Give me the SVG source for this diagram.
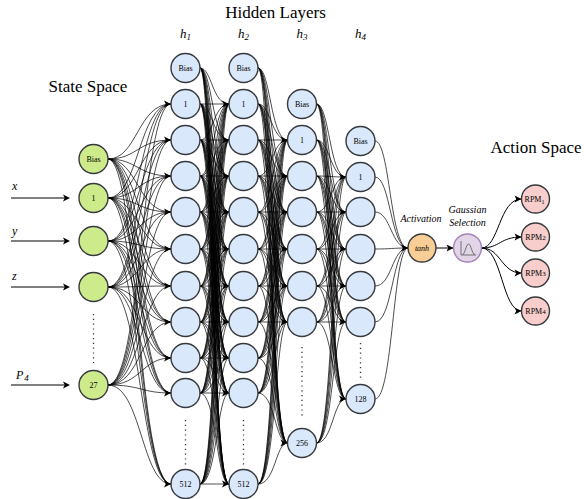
<svg xmlns="http://www.w3.org/2000/svg" xmlns:xlink="http://www.w3.org/1999/xlink" width="584" height="499" viewBox="0 0 584 499">
<style>
text{font-family:"Liberation Serif","Times New Roman",serif;fill:#000}
.t{font-size:8px;text-anchor:middle}
.ti{font-size:17px;text-anchor:middle}
.it{font-style:italic}
.e{fill:none;stroke:#000;stroke-width:0.7}
.in{fill:none;stroke:#000;stroke-width:1}
.dot{fill:none;stroke:#333;stroke-width:1.3;stroke-dasharray:1.2 3.6}
.n circle{stroke:#36393d;stroke-width:1.4}
.b circle{fill:#dae8fc}
.g circle{fill:#cdeb8b}
.o circle{fill:#f8cd96}
.p circle{fill:#e1d5e7;stroke:#a680b8}
.r circle{fill:#f8cecc}
</style>
<defs>
<path id="a" d="M0 0L-7 -3.5L-5.3 0L-7 3.5Z" fill="#000"/>
</defs>

<g id="titles">
<text class="ti" x="275.5" y="18">Hidden Layers</text>
<text class="ti" x="88" y="91.5">State Space</text>
<text class="ti" x="536" y="153">Action Space</text>
<text class="it" x="180" y="38" font-size="13">h<tspan font-size="9" dy="2">1</tspan></text>
<text class="it" x="238" y="38" font-size="13">h<tspan font-size="9" dy="2">2</tspan></text>
<text class="it" x="296.5" y="38" font-size="13">h<tspan font-size="9" dy="2">3</tspan></text>
<text class="it" x="355" y="38" font-size="13">h<tspan font-size="9" dy="2">4</tspan></text>
<text class="it" x="12" y="190" font-size="12">x</text>
<text class="it" x="12" y="235" font-size="12">y</text>
<text class="it" x="12" y="280" font-size="12">z</text>
<text class="it" x="16" y="379" font-size="12">P<tspan font-size="9" dy="2" dx="1">4</tspan></text>
<text class="it" x="421" y="222" font-size="10" text-anchor="middle">Activation</text>
<text class="it" x="467.5" y="213" font-size="10" text-anchor="middle">Gaussian</text>
<text class="it" x="467.5" y="226" font-size="10" text-anchor="middle">Selection</text>
</g>

<g id="connectors">
<path class="in" d="M11 198H65M11 241H65M11 287H65M11 385H65"/>
<path class="e" d="M108 159C137.5 159 137.5 104 171 104M108 159C137.5 159 137.5 140 171 140M108 159C137.5 159 137.5 176 171 176M108 159C137.5 159 137.5 212 171 212M108 159C137.5 159 137.5 249 171 249M108 159C137.5 159 137.5 286 171 286M108 159C137.5 159 137.5 322 171 322M108 159C137.5 159 137.5 358 171 358M108 159C137.5 159 137.5 393 171 393M108 159C137.5 159 137.5 484 171 484"/>
<path class="e" d="M108 198C138.5 198 138.5 104 171 104M108 198C138.5 198 138.5 140 171 140M108 198C138.5 198 138.5 176 171 176M108 198C138.5 198 138.5 212 171 212M108 198C138.5 198 138.5 249 171 249M108 198C138.5 198 138.5 286 171 286M108 198C138.5 198 138.5 322 171 322M108 198C138.5 198 138.5 358 171 358M108 198C138.5 198 138.5 393 171 393M108 198C138.5 198 138.5 484 171 484"/>
<path class="e" d="M108 241C139.5 241 139.5 104 171 104M108 241C139.5 241 139.5 140 171 140M108 241C139.5 241 139.5 176 171 176M108 241C139.5 241 139.5 212 171 212M108 241C139.5 241 139.5 249 171 249M108 241C139.5 241 139.5 286 171 286M108 241C139.5 241 139.5 322 171 322M108 241C139.5 241 139.5 358 171 358M108 241C139.5 241 139.5 393 171 393M108 241C139.5 241 139.5 484 171 484"/>
<path class="e" d="M108 287C140.5 287 140.5 104 171 104M108 287C140.5 287 140.5 140 171 140M108 287C140.5 287 140.5 176 171 176M108 287C140.5 287 140.5 212 171 212M108 287C140.5 287 140.5 249 171 249M108 287C140.5 287 140.5 286 171 286M108 287C140.5 287 140.5 322 171 322M108 287C140.5 287 140.5 358 171 358M108 287C140.5 287 140.5 393 171 393M108 287C140.5 287 140.5 484 171 484"/>
<path class="e" d="M108 385C141.5 385 141.5 104 171 104M108 385C141.5 385 141.5 140 171 140M108 385C141.5 385 141.5 176 171 176M108 385C141.5 385 141.5 212 171 212M108 385C141.5 385 141.5 249 171 249M108 385C141.5 385 141.5 286 171 286M108 385C141.5 385 141.5 322 171 322M108 385C141.5 385 141.5 358 171 358M108 385C141.5 385 141.5 393 171 393M108 385C141.5 385 141.5 484 171 484"/>

<path class="e" d="M200 68C212 68 212 104 229 104M200 68C212 68 212 140 229 140M200 68C212 68 212 176 229 176M200 68C212 68 212 212 229 212M200 68C212 68 212 249 229 249M200 68C212 68 212 286 229 286M200 68C212 68 212 322 229 322M200 68C212 68 212 358 229 358M200 68C212 68 212 393 229 393M200 68C212 68 212 484 229 484"/>
<path class="e" d="M200 104C212.5 104 212.5 104 229 104M200 104C212.5 104 212.5 140 229 140M200 104C212.5 104 212.5 176 229 176M200 104C212.5 104 212.5 212 229 212M200 104C212.5 104 212.5 249 229 249M200 104C212.5 104 212.5 286 229 286M200 104C212.5 104 212.5 322 229 322M200 104C212.5 104 212.5 358 229 358M200 104C212.5 104 212.5 393 229 393M200 104C212.5 104 212.5 484 229 484"/>
<path class="e" d="M200 140C213 140 213 104 229 104M200 140C213 140 213 140 229 140M200 140C213 140 213 176 229 176M200 140C213 140 213 212 229 212M200 140C213 140 213 249 229 249M200 140C213 140 213 286 229 286M200 140C213 140 213 322 229 322M200 140C213 140 213 358 229 358M200 140C213 140 213 393 229 393M200 140C213 140 213 484 229 484"/>
<path class="e" d="M200 176C213.5 176 213.5 104 229 104M200 176C213.5 176 213.5 140 229 140M200 176C213.5 176 213.5 176 229 176M200 176C213.5 176 213.5 212 229 212M200 176C213.5 176 213.5 249 229 249M200 176C213.5 176 213.5 286 229 286M200 176C213.5 176 213.5 322 229 322M200 176C213.5 176 213.5 358 229 358M200 176C213.5 176 213.5 393 229 393M200 176C213.5 176 213.5 484 229 484"/>
<path class="e" d="M200 212C214 212 214 104 229 104M200 212C214 212 214 140 229 140M200 212C214 212 214 176 229 176M200 212C214 212 214 212 229 212M200 212C214 212 214 249 229 249M200 212C214 212 214 286 229 286M200 212C214 212 214 322 229 322M200 212C214 212 214 358 229 358M200 212C214 212 214 393 229 393M200 212C214 212 214 484 229 484"/>
<path class="e" d="M200 249C214.5 249 214.5 104 229 104M200 249C214.5 249 214.5 140 229 140M200 249C214.5 249 214.5 176 229 176M200 249C214.5 249 214.5 212 229 212M200 249C214.5 249 214.5 249 229 249M200 249C214.5 249 214.5 286 229 286M200 249C214.5 249 214.5 322 229 322M200 249C214.5 249 214.5 358 229 358M200 249C214.5 249 214.5 393 229 393M200 249C214.5 249 214.5 484 229 484"/>
<path class="e" d="M200 286C215 286 215 104 229 104M200 286C215 286 215 140 229 140M200 286C215 286 215 176 229 176M200 286C215 286 215 212 229 212M200 286C215 286 215 249 229 249M200 286C215 286 215 286 229 286M200 286C215 286 215 322 229 322M200 286C215 286 215 358 229 358M200 286C215 286 215 393 229 393M200 286C215 286 215 484 229 484"/>
<path class="e" d="M200 322C215.5 322 215.5 104 229 104M200 322C215.5 322 215.5 140 229 140M200 322C215.5 322 215.5 176 229 176M200 322C215.5 322 215.5 212 229 212M200 322C215.5 322 215.5 249 229 249M200 322C215.5 322 215.5 286 229 286M200 322C215.5 322 215.5 322 229 322M200 322C215.5 322 215.5 358 229 358M200 322C215.5 322 215.5 393 229 393M200 322C215.5 322 215.5 484 229 484"/>
<path class="e" d="M200 358C216 358 216 104 229 104M200 358C216 358 216 140 229 140M200 358C216 358 216 176 229 176M200 358C216 358 216 212 229 212M200 358C216 358 216 249 229 249M200 358C216 358 216 286 229 286M200 358C216 358 216 322 229 322M200 358C216 358 216 358 229 358M200 358C216 358 216 393 229 393M200 358C216 358 216 484 229 484"/>
<path class="e" d="M200 393C216.5 393 216.5 104 229 104M200 393C216.5 393 216.5 140 229 140M200 393C216.5 393 216.5 176 229 176M200 393C216.5 393 216.5 212 229 212M200 393C216.5 393 216.5 249 229 249M200 393C216.5 393 216.5 286 229 286M200 393C216.5 393 216.5 322 229 322M200 393C216.5 393 216.5 358 229 358M200 393C216.5 393 216.5 393 229 393M200 393C216.5 393 216.5 484 229 484"/>
<path class="e" d="M200 484C217 484 217 104 229 104M200 484C217 484 217 140 229 140M200 484C217 484 217 176 229 176M200 484C217 484 217 212 229 212M200 484C217 484 217 249 229 249M200 484C217 484 217 286 229 286M200 484C217 484 217 322 229 322M200 484C217 484 217 358 229 358M200 484C217 484 217 393 229 393M200 484C217 484 217 484 229 484"/>

<path class="e" d="M258 68C270.5 68 270.5 140 287.5 140M258 68C270.5 68 270.5 176 287.5 176M258 68C270.5 68 270.5 212 287.5 212M258 68C270.5 68 270.5 249 287.5 249M258 68C270.5 68 270.5 286 287.5 286M258 68C270.5 68 270.5 322 287.5 322M258 68C270.5 68 270.5 443 287.5 443"/>
<path class="e" d="M258 104C271 104 271 140 287.5 140M258 104C271 104 271 176 287.5 176M258 104C271 104 271 212 287.5 212M258 104C271 104 271 249 287.5 249M258 104C271 104 271 286 287.5 286M258 104C271 104 271 322 287.5 322M258 104C271 104 271 443 287.5 443"/>
<path class="e" d="M258 140C271.5 140 271.5 140 287.5 140M258 140C271.5 140 271.5 176 287.5 176M258 140C271.5 140 271.5 212 287.5 212M258 140C271.5 140 271.5 249 287.5 249M258 140C271.5 140 271.5 286 287.5 286M258 140C271.5 140 271.5 322 287.5 322M258 140C271.5 140 271.5 443 287.5 443"/>
<path class="e" d="M258 176C272 176 272 140 287.5 140M258 176C272 176 272 176 287.5 176M258 176C272 176 272 212 287.5 212M258 176C272 176 272 249 287.5 249M258 176C272 176 272 286 287.5 286M258 176C272 176 272 322 287.5 322M258 176C272 176 272 443 287.5 443"/>
<path class="e" d="M258 212C272.5 212 272.5 140 287.5 140M258 212C272.5 212 272.5 176 287.5 176M258 212C272.5 212 272.5 212 287.5 212M258 212C272.5 212 272.5 249 287.5 249M258 212C272.5 212 272.5 286 287.5 286M258 212C272.5 212 272.5 322 287.5 322M258 212C272.5 212 272.5 443 287.5 443"/>
<path class="e" d="M258 249C273 249 273 140 287.5 140M258 249C273 249 273 176 287.5 176M258 249C273 249 273 212 287.5 212M258 249C273 249 273 249 287.5 249M258 249C273 249 273 286 287.5 286M258 249C273 249 273 322 287.5 322M258 249C273 249 273 443 287.5 443"/>
<path class="e" d="M258 286C273.5 286 273.5 140 287.5 140M258 286C273.5 286 273.5 176 287.5 176M258 286C273.5 286 273.5 212 287.5 212M258 286C273.5 286 273.5 249 287.5 249M258 286C273.5 286 273.5 286 287.5 286M258 286C273.5 286 273.5 322 287.5 322M258 286C273.5 286 273.5 443 287.5 443"/>
<path class="e" d="M258 322C274 322 274 140 287.5 140M258 322C274 322 274 176 287.5 176M258 322C274 322 274 212 287.5 212M258 322C274 322 274 249 287.5 249M258 322C274 322 274 286 287.5 286M258 322C274 322 274 322 287.5 322M258 322C274 322 274 443 287.5 443"/>
<path class="e" d="M258 358C274.5 358 274.5 140 287.5 140M258 358C274.5 358 274.5 176 287.5 176M258 358C274.5 358 274.5 212 287.5 212M258 358C274.5 358 274.5 249 287.5 249M258 358C274.5 358 274.5 286 287.5 286M258 358C274.5 358 274.5 322 287.5 322M258 358C274.5 358 274.5 443 287.5 443"/>
<path class="e" d="M258 393C275 393 275 140 287.5 140M258 393C275 393 275 176 287.5 176M258 393C275 393 275 212 287.5 212M258 393C275 393 275 249 287.5 249M258 393C275 393 275 286 287.5 286M258 393C275 393 275 322 287.5 322M258 393C275 393 275 443 287.5 443"/>
<path class="e" d="M258 484C275.5 484 275.5 140 287.5 140M258 484C275.5 484 275.5 176 287.5 176M258 484C275.5 484 275.5 212 287.5 212M258 484C275.5 484 275.5 249 287.5 249M258 484C275.5 484 275.5 286 287.5 286M258 484C275.5 484 275.5 322 287.5 322M258 484C275.5 484 275.5 443 287.5 443"/>

<path class="e" d="M316.5 104C329.5 104 329.5 177 346 177M316.5 104C329.5 104 329.5 212 346 212M316.5 104C329.5 104 329.5 249 346 249M316.5 104C329.5 104 329.5 286 346 286M316.5 104C329.5 104 329.5 322 346 322M316.5 104C329.5 104 329.5 399 346 399"/>
<path class="e" d="M316.5 140C330 140 330 177 346 177M316.5 140C330 140 330 212 346 212M316.5 140C330 140 330 249 346 249M316.5 140C330 140 330 286 346 286M316.5 140C330 140 330 322 346 322M316.5 140C330 140 330 399 346 399"/>
<path class="e" d="M316.5 176C330.5 176 330.5 177 346 177M316.5 176C330.5 176 330.5 212 346 212M316.5 176C330.5 176 330.5 249 346 249M316.5 176C330.5 176 330.5 286 346 286M316.5 176C330.5 176 330.5 322 346 322M316.5 176C330.5 176 330.5 399 346 399"/>
<path class="e" d="M316.5 212C331 212 331 177 346 177M316.5 212C331 212 331 212 346 212M316.5 212C331 212 331 249 346 249M316.5 212C331 212 331 286 346 286M316.5 212C331 212 331 322 346 322M316.5 212C331 212 331 399 346 399"/>
<path class="e" d="M316.5 249C331.5 249 331.5 177 346 177M316.5 249C331.5 249 331.5 212 346 212M316.5 249C331.5 249 331.5 249 346 249M316.5 249C331.5 249 331.5 286 346 286M316.5 249C331.5 249 331.5 322 346 322M316.5 249C331.5 249 331.5 399 346 399"/>
<path class="e" d="M316.5 286C332 286 332 177 346 177M316.5 286C332 286 332 212 346 212M316.5 286C332 286 332 249 346 249M316.5 286C332 286 332 286 346 286M316.5 286C332 286 332 322 346 322M316.5 286C332 286 332 399 346 399"/>
<path class="e" d="M316.5 322C332.5 322 332.5 177 346 177M316.5 322C332.5 322 332.5 212 346 212M316.5 322C332.5 322 332.5 249 346 249M316.5 322C332.5 322 332.5 286 346 286M316.5 322C332.5 322 332.5 322 346 322M316.5 322C332.5 322 332.5 399 346 399"/>
<path class="e" d="M316.5 443C333 443 333 177 346 177M316.5 443C333 443 333 212 346 212M316.5 443C333 443 333 249 346 249M316.5 443C333 443 333 286 346 286M316.5 443C333 443 333 322 346 322M316.5 443C333 443 333 399 346 399"/>

<path class="e" d="M375 141C390 141 390 248 408 248M375 177C390.5 177 390.5 248 408 248M375 212C391 212 391 248 408 248M375 249C391.5 249 391.5 248 408 248M375 286C392 286 392 248 408 248M375 322C392.5 322 392.5 248 408 248M375 399C393 399 393 248 408 248"/>
<path class="in" d="M436 248H453.5"/>
<path class="in" d="M481.5 248C499 248 499 199 521.5 199M481.5 248C500 248 500 237 521.5 237M481.5 248C501 248 501 273 521.5 273M481.5 248C502 248 502 311 521.5 311"/>

<g id="arrowheads">
<use xlink:href="#a" x="70" y="198"/><use xlink:href="#a" x="70" y="241"/><use xlink:href="#a" x="70" y="287"/><use xlink:href="#a" x="70" y="385"/>
<use xlink:href="#a" x="171" y="104"/><use xlink:href="#a" x="171" y="140"/><use xlink:href="#a" x="171" y="176"/><use xlink:href="#a" x="171" y="212"/><use xlink:href="#a" x="171" y="249"/><use xlink:href="#a" x="171" y="286"/><use xlink:href="#a" x="171" y="322"/><use xlink:href="#a" x="171" y="358"/><use xlink:href="#a" x="171" y="393"/><use xlink:href="#a" x="171" y="484"/>
<use xlink:href="#a" x="229" y="104"/><use xlink:href="#a" x="229" y="140"/><use xlink:href="#a" x="229" y="176"/><use xlink:href="#a" x="229" y="212"/><use xlink:href="#a" x="229" y="249"/><use xlink:href="#a" x="229" y="286"/><use xlink:href="#a" x="229" y="322"/><use xlink:href="#a" x="229" y="358"/><use xlink:href="#a" x="229" y="393"/><use xlink:href="#a" x="229" y="484"/>
<use xlink:href="#a" x="287.5" y="140"/><use xlink:href="#a" x="287.5" y="176"/><use xlink:href="#a" x="287.5" y="212"/><use xlink:href="#a" x="287.5" y="249"/><use xlink:href="#a" x="287.5" y="286"/><use xlink:href="#a" x="287.5" y="322"/><use xlink:href="#a" x="287.5" y="443"/>
<use xlink:href="#a" x="346" y="177"/><use xlink:href="#a" x="346" y="212"/><use xlink:href="#a" x="346" y="249"/><use xlink:href="#a" x="346" y="286"/><use xlink:href="#a" x="346" y="322"/><use xlink:href="#a" x="346" y="399"/>
<use xlink:href="#a" x="408" y="248"/><use xlink:href="#a" x="453.5" y="248"/>
<use xlink:href="#a" x="521.5" y="199"/><use xlink:href="#a" x="521.5" y="237"/><use xlink:href="#a" x="521.5" y="273"/><use xlink:href="#a" x="521.5" y="311"/>
</g>
</g>

<g id="ellipses">
<path class="dot" d="M93.5 314V363M185.5 420V465M243.5 420V465M302 347V419M360.5 343V381"/>
</g>

<g id="s-bias" class="n g"><circle cx="93.5" cy="159" r="14.5"/><text class="t" x="93.5" y="162">Bias</text></g>
<g id="s-1" class="n g"><circle cx="93.5" cy="198" r="14.5"/><text class="t" x="93.5" y="201">1</text></g>
<g id="s-2" class="n g"><circle cx="93.5" cy="241" r="14.5"/></g>
<g id="s-3" class="n g"><circle cx="93.5" cy="287" r="14.5"/></g>
<g id="s-27" class="n g"><circle cx="93.5" cy="385" r="14.5"/><text class="t" x="93.5" y="388">27</text></g>

<g id="h1-bias" class="n b"><circle cx="185.5" cy="68" r="14.5"/><text class="t" x="185.5" y="71">Bias</text></g>
<g id="h1-1" class="n b"><circle cx="185.5" cy="104" r="14.5"/><text class="t" x="185.5" y="107">1</text></g>
<g id="h1-2" class="n b"><circle cx="185.5" cy="140" r="14.5"/></g>
<g id="h1-3" class="n b"><circle cx="185.5" cy="176" r="14.5"/></g>
<g id="h1-4" class="n b"><circle cx="185.5" cy="212" r="14.5"/></g>
<g id="h1-5" class="n b"><circle cx="185.5" cy="249" r="14.5"/></g>
<g id="h1-6" class="n b"><circle cx="185.5" cy="286" r="14.5"/></g>
<g id="h1-7" class="n b"><circle cx="185.5" cy="322" r="14.5"/></g>
<g id="h1-8" class="n b"><circle cx="185.5" cy="358" r="14.5"/></g>
<g id="h1-9" class="n b"><circle cx="185.5" cy="393" r="14.5"/></g>
<g id="h1-512" class="n b"><circle cx="185.5" cy="484" r="14.5"/><text class="t" x="185.5" y="487">512</text></g>

<g id="h2-bias" class="n b"><circle cx="243.5" cy="68" r="14.5"/><text class="t" x="243.5" y="71">Bias</text></g>
<g id="h2-1" class="n b"><circle cx="243.5" cy="104" r="14.5"/><text class="t" x="243.5" y="107">1</text></g>
<g id="h2-2" class="n b"><circle cx="243.5" cy="140" r="14.5"/></g>
<g id="h2-3" class="n b"><circle cx="243.5" cy="176" r="14.5"/></g>
<g id="h2-4" class="n b"><circle cx="243.5" cy="212" r="14.5"/></g>
<g id="h2-5" class="n b"><circle cx="243.5" cy="249" r="14.5"/></g>
<g id="h2-6" class="n b"><circle cx="243.5" cy="286" r="14.5"/></g>
<g id="h2-7" class="n b"><circle cx="243.5" cy="322" r="14.5"/></g>
<g id="h2-8" class="n b"><circle cx="243.5" cy="358" r="14.5"/></g>
<g id="h2-9" class="n b"><circle cx="243.5" cy="393" r="14.5"/></g>
<g id="h2-512" class="n b"><circle cx="243.5" cy="484" r="14.5"/><text class="t" x="243.5" y="487">512</text></g>

<g id="h3-bias" class="n b"><circle cx="302" cy="104" r="14.5"/><text class="t" x="302" y="107">Bias</text></g>
<g id="h3-1" class="n b"><circle cx="302" cy="140" r="14.5"/><text class="t" x="302" y="143">1</text></g>
<g id="h3-2" class="n b"><circle cx="302" cy="176" r="14.5"/></g>
<g id="h3-3" class="n b"><circle cx="302" cy="212" r="14.5"/></g>
<g id="h3-4" class="n b"><circle cx="302" cy="249" r="14.5"/></g>
<g id="h3-5" class="n b"><circle cx="302" cy="286" r="14.5"/></g>
<g id="h3-6" class="n b"><circle cx="302" cy="322" r="14.5"/></g>
<g id="h3-256" class="n b"><circle cx="302" cy="443" r="14.5"/><text class="t" x="302" y="446">256</text></g>

<g id="h4-bias" class="n b"><circle cx="360.5" cy="141" r="14.5"/><text class="t" x="360.5" y="144">Bias</text></g>
<g id="h4-1" class="n b"><circle cx="360.5" cy="177" r="14.5"/><text class="t" x="360.5" y="180">1</text></g>
<g id="h4-2" class="n b"><circle cx="360.5" cy="212" r="14.5"/></g>
<g id="h4-3" class="n b"><circle cx="360.5" cy="249" r="14.5"/></g>
<g id="h4-4" class="n b"><circle cx="360.5" cy="286" r="14.5"/></g>
<g id="h4-5" class="n b"><circle cx="360.5" cy="322" r="14.5"/></g>
<g id="h4-128" class="n b"><circle cx="360.5" cy="399" r="14.5"/><text class="t" x="360.5" y="402">128</text></g>

<g id="tanh" class="n o"><circle cx="422" cy="248" r="14"/><text class="t it" x="422" y="251" font-size="8.5">tanh</text></g>
<g id="gaussian" class="n p"><circle cx="467.5" cy="248" r="14"/><path d="M461 241V255H476M462.5 254.5C465 254.5 466 244 468.5 244C471 244 472 254.5 475 254.5" fill="none" stroke="#555" stroke-width="0.8"/></g>

<g id="rpm1" class="n r"><circle cx="535.5" cy="199" r="14"/><text class="t" x="534.5" y="202" font-size="8.5">RPM<tspan font-size="6" dy="1.5">1</tspan></text></g>
<g id="rpm2" class="n r"><circle cx="535.5" cy="237" r="14"/><text class="t" x="535.5" y="240" font-size="8.5">RPM<tspan font-size="7">2</tspan></text></g>
<g id="rpm3" class="n r"><circle cx="535.5" cy="273" r="14"/><text class="t" x="535.5" y="276" font-size="8.5">RPM<tspan font-size="7">3</tspan></text></g>
<g id="rpm4" class="n r"><circle cx="535.5" cy="311" r="14"/><text class="t" x="535.5" y="314" font-size="8.5">RPM<tspan font-size="7">4</tspan></text></g>
</svg>
